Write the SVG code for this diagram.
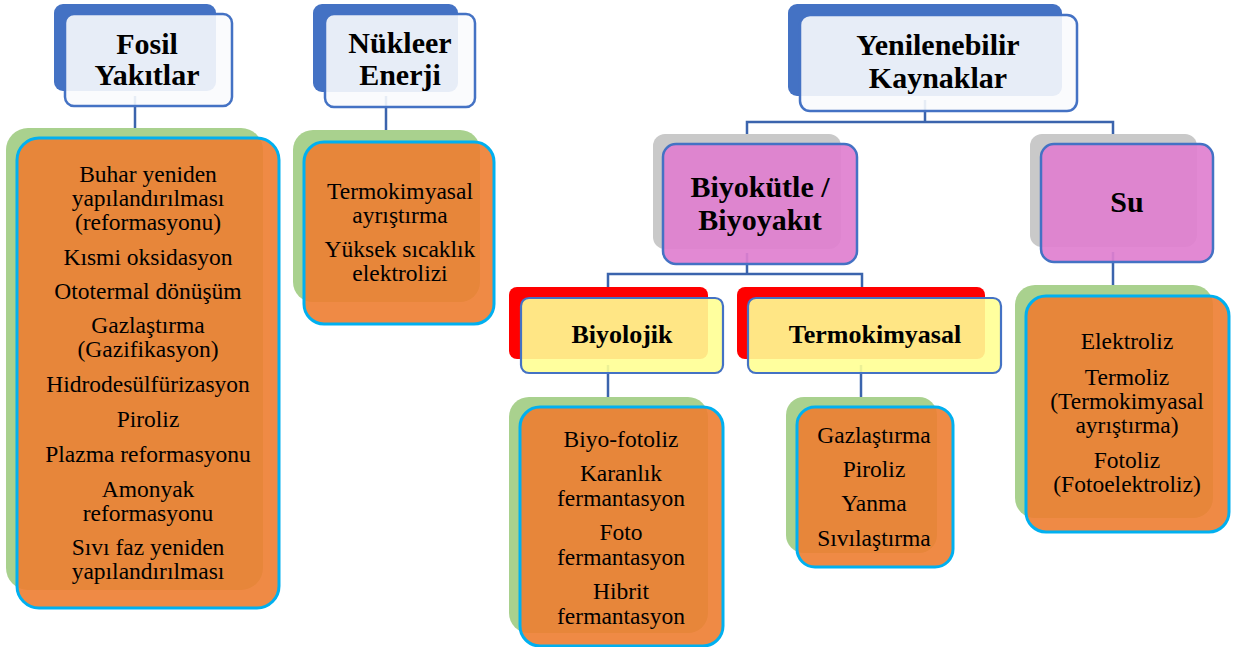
<svg xmlns="http://www.w3.org/2000/svg" width="1241" height="647" viewBox="0 0 1241 647">
<style>
.bg{fill:#ffffff}
.hb{fill:#4472C4}
.hf{fill:#FAFBFD;fill-opacity:0.9;stroke:#4472C4;stroke-width:2.5}
.gb{fill:#C9C9C9}
.pf{fill:#DF7FCF;fill-opacity:0.92;stroke:#4472C4;stroke-width:2.5}
.rb{fill:#FF0000}
.yf{fill:#FFFF93;fill-opacity:0.9;stroke:#4472C4;stroke-width:2.2}
.grn{fill:#A9D18E}
.of{fill:#ED7D31;fill-opacity:0.9;stroke:#00B0F0;stroke-width:3}
.t{font-family:'Liberation Serif','Times New Roman',serif;font-size:23.5px;fill:#000;text-anchor:middle}
.h{font-family:'Liberation Serif','Times New Roman',serif;font-size:30px;font-weight:bold;fill:#000;text-anchor:middle}
.s{font-family:'Liberation Serif','Times New Roman',serif;font-size:26px;font-weight:bold;fill:#000;text-anchor:middle}
.c{fill:none;stroke:#3B64AD;stroke-width:2.5}
</style>
<rect class="bg" x="0" y="0" width="1241" height="647"/>
<g id="connectors">
<line class="c" x1="135" y1="96" x2="135" y2="128"/>
<line class="c" x1="386" y1="96" x2="386" y2="130"/>
<polyline class="c" points="925,100 925,122"/>
<polyline class="c" points="747,134 747,122 1113,122 1113,134"/>
<polyline class="c" points="747,253 747,274"/>
<polyline class="c" points="608,287 608,274 862,274 862,287"/>
<line class="c" x1="608" y1="365" x2="608" y2="397"/>
<line class="c" x1="861" y1="365" x2="861" y2="397"/>
<line class="c" x1="1113" y1="252" x2="1113" y2="285"/>
</g>
<g id="fosil">
<rect class="hb" x="54" y="4" width="162" height="87" rx="9"/>
<rect class="hf" x="65" y="14" width="167" height="92" rx="9"/>
<text class="h" x="147" y="54">Fosil</text>
<text class="h" x="147" y="85">Yakıtlar</text>
</g>
<g id="fosil-list">
<rect class="grn" x="6" y="128" width="257" height="462" rx="22"/>
<rect class="of" x="17" y="138" width="262" height="470" rx="22"/>
<text class="t" x="148" y="181.5">Buhar yeniden</text>
<text class="t" x="148" y="205.5">yapılandırılması</text>
<text class="t" x="148" y="229.5">(reformasyonu)</text>
<text class="t" x="148" y="265">Kısmi oksidasyon</text>
<text class="t" x="148" y="299">Ototermal dönüşüm</text>
<text class="t" x="148" y="333">Gazlaştırma</text>
<text class="t" x="148" y="357">(Gazifikasyon)</text>
<text class="t" x="148" y="392">Hidrodesülfürizasyon</text>
<text class="t" x="148" y="427">Piroliz</text>
<text class="t" x="148" y="462">Plazma reformasyonu</text>
<text class="t" x="148" y="497">Amonyak</text>
<text class="t" x="148" y="521">reformasyonu</text>
<text class="t" x="148" y="555">Sıvı faz yeniden</text>
<text class="t" x="148" y="579">yapılandırılması</text>
</g>
<g id="nukleer">
<rect class="hb" x="313" y="4" width="145" height="88" rx="9"/>
<rect class="hf" x="325" y="14" width="150" height="93" rx="9"/>
<text class="h" x="400" y="53">Nükleer</text>
<text class="h" x="400" y="85">Enerji</text>
</g>
<g id="nukleer-list">
<rect class="grn" x="293" y="130" width="187" height="172" rx="20"/>
<rect class="of" x="304" y="142" width="190" height="182" rx="20"/>
<text class="t" x="400" y="199">Termokimyasal</text>
<text class="t" x="400" y="223">ayrıştırma</text>
<text class="t" x="400" y="257">Yüksek sıcaklık</text>
<text class="t" x="400" y="281">elektrolizi</text>
</g>
<g id="yenilenebilir">
<rect class="hb" x="788" y="4" width="274" height="92" rx="9"/>
<rect class="hf" x="800" y="15" width="277" height="96" rx="10"/>
<text class="h" x="938" y="55">Yenilenebilir</text>
<text class="h" x="938" y="88">Kaynaklar</text>
</g>
<g id="biyokutle">
<rect class="gb" x="653" y="134" width="188" height="115" rx="12"/>
<rect class="pf" x="663" y="144" width="194" height="120" rx="13"/>
<text class="h" x="760" y="197">Biyokütle /</text>
<text class="h" x="760" y="230">Biyoyakıt</text>
</g>
<g id="su">
<rect class="gb" x="1030" y="134" width="167" height="113" rx="12"/>
<rect class="pf" x="1041" y="144" width="172" height="118" rx="13"/>
<text class="h" x="1127" y="212">Su</text>
</g>
<g id="biyolojik">
<rect class="rb" x="509" y="287" width="199" height="72" rx="8"/>
<rect class="yf" x="521" y="298" width="202" height="75" rx="8"/>
<text class="s" x="622" y="343">Biyolojik</text>
</g>
<g id="termokimyasal">
<rect class="rb" x="737" y="287" width="248" height="72" rx="8"/>
<rect class="yf" x="748" y="298" width="253" height="75" rx="8"/>
<text class="s" x="875" y="343">Termokimyasal</text>
</g>
<g id="biyolojik-list">
<rect class="grn" x="509" y="397" width="199" height="236" rx="20"/>
<rect class="of" x="520" y="407" width="203" height="239" rx="20"/>
<text class="t" x="621" y="447">Biyo-fotoliz</text>
<text class="t" x="621" y="481">Karanlık</text>
<text class="t" x="621" y="506">fermantasyon</text>
<text class="t" x="621" y="540">Foto</text>
<text class="t" x="621" y="565">fermantasyon</text>
<text class="t" x="621" y="599">Hibrit</text>
<text class="t" x="621" y="624">fermantasyon</text>
</g>
<g id="termokimyasal-list">
<rect class="grn" x="786" y="397" width="151" height="156" rx="18"/>
<rect class="of" x="797" y="407" width="156" height="160" rx="18"/>
<text class="t" x="874" y="443">Gazlaştırma</text>
<text class="t" x="874" y="477">Piroliz</text>
<text class="t" x="874" y="511">Yanma</text>
<text class="t" x="874" y="546">Sıvılaştırma</text>
</g>
<g id="su-list">
<rect class="grn" x="1015" y="285" width="198" height="233" rx="20"/>
<rect class="of" x="1026" y="296" width="203" height="236" rx="20"/>
<text class="t" x="1127" y="349">Elektroliz</text>
<text class="t" x="1127" y="384.5">Termoliz</text>
<text class="t" x="1127" y="408.5">(Termokimyasal</text>
<text class="t" x="1127" y="432.5">ayrıştırma)</text>
<text class="t" x="1127" y="468">Fotoliz</text>
<text class="t" x="1127" y="492">(Fotoelektroliz)</text>
</g>
</svg>
